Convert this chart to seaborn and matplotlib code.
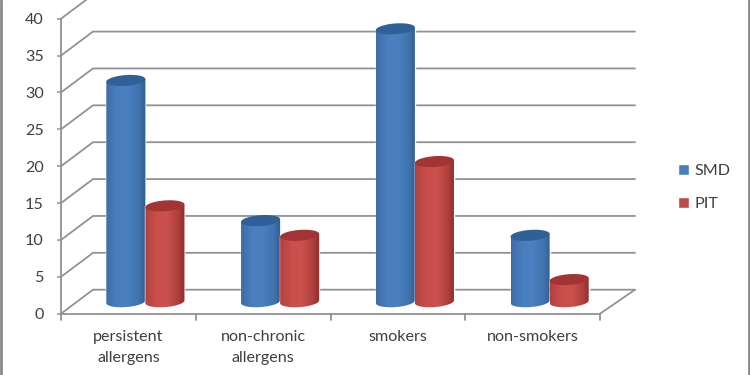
import numpy as np
import pandas as pd
import matplotlib
matplotlib.use("Agg")
import matplotlib.pyplot as plt
import seaborn as sns
from matplotlib.colors import LinearSegmentedColormap
from matplotlib.path import Path
from matplotlib.patches import PathPatch
from matplotlib.transforms import Affine2D, IdentityTransform

categories = ["persistent\nallergens", "non-chronic\nallergens", "smokers", "non-smokers"]
smd_values = [30, 11, 37, 9]
pit_values = [13, 9, 19, 3]
series_names = ["SMD", "PIT"]
y_ticks = [0, 5, 10, 15, 20, 25, 30, 35, 40]

sns.set_theme(style="white")
plt.rcParams["font.family"] = ["Lato", "DejaVu Sans"]

W, H = 750, 375
GRID = "#929292"
TEXT = "#3f3f3f"
FS = 11.6
fig = plt.figure(figsize=(W / 100, H / 100), dpi=100, facecolor="white")
ax = fig.add_axes([61 / W, (H - 313.7) / H, 539 / W, 295 / H])
ax.patch.set_alpha(0)

df = pd.DataFrame({
    "group": categories * 2,
    "value": smd_values + pit_values,
    "series": [series_names[0]] * 4 + [series_names[1]] * 4,
})
sns.barplot(data=df, x="group", y="value", hue="series", order=categories,
            hue_order=series_names, palette=["#4a7ebb", "#be4b48"],
            width=0.58, gap=0, saturation=1, errorbar=None, ax=ax, zorder=3)
ax.set_xlim(-0.5, 3.5)
ax.set_ylim(0, 40)
ax.set_autoscale_on(False)
ax.set_xlabel("")
ax.set_ylabel("")

# depth of the pseudo-3D box, in pixels
depth_left, depth_right, depth_y = 32, 35, 24
for t in y_ticks:
    pl = ax.transData.transform((-0.5, t))
    pr = ax.transData.transform((3.5, t))
    ax.plot([pl[0], pl[0] + depth_left, pr[0] + depth_right],
            [pl[1], pl[1] + depth_y, pr[1] + depth_y],
            color=GRID, lw=1.3, transform=IdentityTransform(), clip_on=False,
            zorder=1, solid_joinstyle="miter")
pr = ax.transData.transform((3.5, 0))
ax.plot([pr[0], pr[0] + depth_right], [pr[1], pr[1] + depth_y], color=GRID, lw=1.3,
        transform=IdentityTransform(), clip_on=False, zorder=1)

ax.set_yticks(y_ticks)
ax.tick_params(axis="y", length=3, width=1.1, color=GRID, pad=9.5, left=True,
               labelsize=FS, labelcolor=TEXT)
ax.tick_params(axis="x", length=0, pad=12, labelsize=FS, labelcolor=TEXT)
for lab in ax.get_xticklabels():
    lab.set_linespacing(1.58)
    lab.set_verticalalignment("top")
for s in ("top", "right"):
    ax.spines[s].set_visible(False)
for s in ("left", "bottom"):
    ax.spines[s].set_color(GRID)
    ax.spines[s].set_linewidth(1.3)
# category separators below the floor line
for xe in [-0.5, 0.5, 1.5, 2.5, 3.5]:
    p0 = ax.transData.transform((xe, 0))
    ax.plot([p0[0], p0[0]], [p0[1], p0[1] - 6], color=GRID, lw=1.3,
            transform=IdentityTransform(), clip_on=False, zorder=1)

cm_blue = LinearSegmentedColormap.from_list(
    "b", [(0, "#3e6da8"), (0.3, "#4a7fbf"), (0.55, "#4a80c1"), (0.82, "#4073ae"), (1, "#305d90")])
cm_red = LinearSegmentedColormap.from_list(
    "r", [(0, "#b4413e"), (0.3, "#c94f4c"), (0.55, "#cb514e"), (0.82, "#b0403d"), (1, "#8c2e2c")])
tops = ["#2f6098", "#a23533"]
maps = [cm_blue, cm_red]

bar_dx, bar_dy = 17, 12
ry, skew = 5.4, 0.07
tt = np.linspace(0, np.pi, 40)
z = 3.0
bar_trans = ax.transData + Affine2D().translate(bar_dx, bar_dy)
shade = np.linspace(0, 1, 128).reshape(1, -1)
for k, cont in enumerate(ax.containers):
    for patch in cont:
        patch.set_transform(bar_trans)
        patch.set_clip_on(False)
        x = patch.get_x()
        w = patch.get_width()
        h = patch.get_height()
        (x0, y0) = bar_trans.transform((x, 0))
        (x1, y1) = bar_trans.transform((x + w, h))
        cx = (x0 + x1) / 2
        rx = (x1 - x0) / 2
        xs = cx - rx * np.cos(tt)
        ys_bot = y0 - ry * np.sin(tt) + skew * (xs - cx)
        verts = [(x0, y1 - skew * rx)] + list(zip(xs, ys_bot)) + [(x1, y1 + skew * rx), (x0, y1 - skew * rx)]
        clip = Path(verts)
        z += 1
        patch.set_zorder(z)
        patch.set_facecolor("none")
        im = ax.imshow(shade, cmap=maps[k], aspect="auto", origin="lower",
                       extent=(x0, x1, y0 - 2 * ry, y1 + 2 * ry),
                       transform=IdentityTransform(), interpolation="bilinear",
                       zorder=z)
        im.set_clip_path(clip, transform=IdentityTransform())
        # upper elliptical cap
        t2 = np.linspace(0, 2 * np.pi, 80)
        ex = cx + rx * np.cos(t2)
        ey = y1 + ry * np.sin(t2) + skew * (ex - cx)
        cap = PathPatch(Path(np.column_stack([ex, ey])), facecolor=tops[k],
                        edgecolor="none", transform=IdentityTransform(),
                        clip_on=False, zorder=z + 0.5)
        ax.add_patch(cap)
ax.set_xlim(-0.5, 3.5)
ax.set_ylim(0, 40)

sns.move_legend(ax, loc="center left", bbox_to_anchor=(678 / W, (H - 187.5) / H),
                bbox_transform=fig.transFigure, frameon=False, title=None,
                handlelength=0.7, handleheight=0.7, handletextpad=0.33,
                labelspacing=1.2, borderpad=0, borderaxespad=0,
                fontsize=FS, labelcolor=TEXT)

# grey picture frame left and right
for xf in (1.2, 748.5):
    fig.add_artist(plt.Line2D([xf / W, xf / W], [0, 1], color="#8a8a8a", lw=2,
                              transform=fig.transFigure))

fig.savefig("out.png", dpi=100, facecolor="white")
